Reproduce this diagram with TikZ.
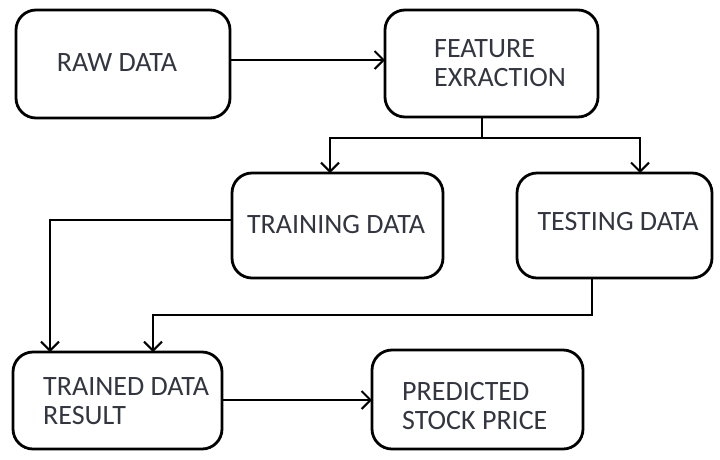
\documentclass[tikz,border=0pt]{standalone}
\usepackage{fontspec}
\setmainfont{Carlito}
\usetikzlibrary{arrows.meta}
\definecolor{txtc}{rgb}{0.2,0.21,0.25}
\begin{document}
\begin{tikzpicture}[x=1pt,y=-1pt,
  box/.style={draw=black,line width=2.8pt,rounded corners=20pt,inner sep=0pt,outer sep=0pt},
  lbl/.style={text=txtc,inner sep=0pt,font=\fontsize{28}{29}\selectfont,align=left},
  arr/.style={line width=2pt,-{Straight Barb[length=9pt,width=18pt,line width=2pt]}},
  ln/.style={line width=2pt}]
\useasboundingbox (0,0) rectangle (720,459);
\node[box,minimum width=214pt,minimum height=108pt] (raw) at (123,64) {};
\node[box,minimum width=213pt,minimum height=107pt] (feat) at (491.5,63.5) {};
\node[box,minimum width=211pt,minimum height=105pt] (train) at (337.5,225.5) {};
\node[box,minimum width=195pt,minimum height=105pt] (test) at (614.5,225.5) {};
\node[box,minimum width=209pt,minimum height=97pt] (trres) at (117.5,400.5) {};
\node[box,minimum width=211pt,minimum height=99pt] (pred) at (477.5,399.5) {};
\node[lbl] (rawt) at (117,63) {RAW DATA};
\node[lbl,anchor=west] (featt) at (434,63) {FEATURE\\EXRACTION};
\node[lbl] (traint) at (336,225) {TRAINING DATA};
\node[lbl] (testt) at (618,222) {TESTING DATA};
\node[lbl,anchor=west] (trrest) at (43,401) {TRAINED DATA\\RESULT};
\node[lbl,anchor=west] (predt) at (402,406) {PREDICTED\\STOCK PRICE};
\coordinate (fork) at (482,138);
\draw[arr] (raw.east |- 0,60) -- (feat.west |- 0,60);
\draw[ln] (feat.south -| fork) -- (fork);
\draw[arr] (fork) -| (train.north -| 330,0);
\draw[arr] (fork) -| (test.north -| 640,0);
\draw[arr] (train.west |- 0,220) -| (trres.north -| 50,0);
\draw[arr] (test.south -| 592,0) |- (153,315) -- (trres.north -| 153,0);
\draw[arr] (trres.east |- 0,400) -- (pred.west |- 0,400);
\end{tikzpicture}
\end{document}
